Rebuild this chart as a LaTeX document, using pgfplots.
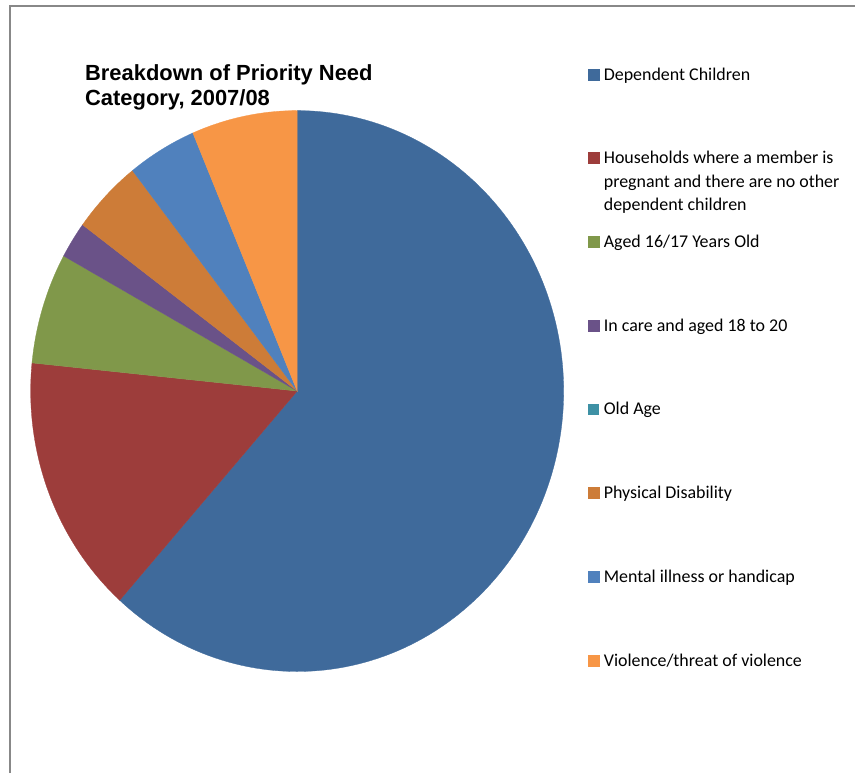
\documentclass[border=0pt]{standalone}
\usepackage{fontspec}
\setmainfont{Carlito}
\newfontfamily\arialfont{Liberation Sans}
\usepackage{pgfplots}
\usepackage{pgfplotstable}
\pgfplotsset{compat=1.18}
\definecolor{cDep}{RGB}{63,106,155}
\definecolor{cHou}{RGB}{157,61,59}
\definecolor{cAge}{RGB}{128,152,74}
\definecolor{cCare}{RGB}{106,82,136}
\definecolor{cOld}{RGB}{62,145,165}
\definecolor{cPhys}{RGB}{205,124,56}
\definecolor{cMent}{RGB}{80,129,189}
\definecolor{cViol}{RGB}{247,150,70}
\definecolor{cFrame}{RGB}{136,136,136}

% shares of each priority need category, percent
\pgfplotstableread{
share
61.6
15.0
6.4
2.1
0.0
4.3
4.2
6.4
}\piedata

\newcommand\pieslice[2]{%
  \addplot[fill=#2, draw=#2, line width=0.3pt,
    domain={\csname sB#1\endcsname}:{\csname sA#1\endcsname}, samples=150]
    ({296+267.5*cos(x)},{383.5+281.5*sin(x)}) -- (axis cs:296,383.5) -- cycle;}

\begin{document}
\def\cumsum{0}
\pgfplotsforeachungrouped \i in {0,...,7}{%
  \pgfplotstablegetelem{\i}{share}\of\piedata
  \pgfmathsetmacro\sliceStart{90-3.6*\cumsum}%
  \pgfmathsetmacro\newcum{\cumsum+\pgfplotsretval}%
  \xdef\cumsum{\newcum}%
  \pgfmathsetmacro\sliceStop{90-3.6*\cumsum}%
  \expandafter\xdef\csname sA\i\endcsname{\sliceStart}%
  \expandafter\xdef\csname sB\i\endcsname{\sliceStop}%
}%
\begin{tikzpicture}
\begin{axis}[
  scale only axis, width=856pt, height=776pt,
  xmin=0, xmax=856, ymin=0, ymax=776,
  hide axis, clip=false,
  legend image code/.code={\fill[#1] (0pt,0.3pt) rectangle (11pt,11.3pt);},
  legend cell align=left,
  legend style={at={(0.68692,0.91431)}, anchor=north west, draw=none, fill=none,
    inner sep=0pt, outer sep=0pt, row sep=65pt, column sep=4.5pt,
    font=\fontsize{18}{23.5}\selectfont,
    nodes={inner sep=0pt, text height=14pt, text depth=5pt, anchor=base west}},
]
\addplot[draw=none, forget plot] coordinates {(0,0) (856,776)};
\pieslice{0}{cDep}
\addlegendentry{Dependent Children}
\pieslice{1}{cHou}
\addlegendentry{\smash{\parbox[t]{240pt}{Households where a member is\\pregnant and there are no other\\dependent children}}}
\pieslice{2}{cAge}
\addlegendentry{Aged 16/17 Years Old}
\pieslice{3}{cCare}
\addlegendentry{In care and aged 18 to 20}
\addlegendimage{fill=cOld, draw=none}
\addlegendentry{Old Age}
\pieslice{5}{cPhys}
\addlegendentry{Physical Disability}
\pieslice{6}{cMent}
\addlegendentry{Mental illness or handicap}
\pieslice{7}{cViol}
\addlegendentry{Violence/threat of violence}
\draw[cFrame, line width=1.8pt] (axis cs:8,0) -- (axis cs:8,770) -- (axis cs:856,770);
\node[anchor=base west, inner sep=0pt, font=\arialfont\bfseries\fontsize{22}{25}\selectfont]
  at (axis cs:83,695.5) {\parbox[t]{300pt}{Breakdown of Priority Need\\Category, 2007/08}};
\end{axis}
\end{tikzpicture}
\end{document}
